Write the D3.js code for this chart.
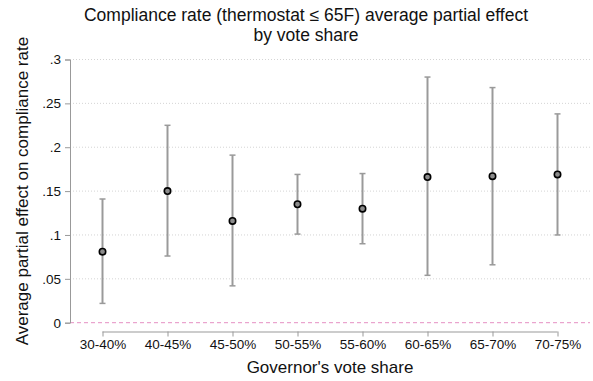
<!DOCTYPE html>
<html>
<head>
<meta charset="utf-8">
<title>Compliance rate partial effect</title>
<style>
  body { margin: 0; background: #fff; }
  text { font-family: "Liberation Sans", Arial, sans-serif; fill: #111; }
</style>
</head>
<body>
<svg width="593" height="381"></svg>
<script src="https://d3js.org/d3.v7.min.js"></script>
<script>

// vote share bins
var bins = ["30-40%", "40-45%", "45-50%", "50-55%", "55-60%", "60-65%", "65-70%", "70-75%"];
// average partial effect and 95% CI
var effect = [0.081, 0.150, 0.116, 0.135, 0.130, 0.166, 0.167, 0.169];
var ciLow  = [0.022, 0.076, 0.042, 0.101, 0.090, 0.054, 0.066, 0.100];
var ciHigh = [0.141, 0.225, 0.191, 0.169, 0.170, 0.280, 0.268, 0.238];
var yTicks = [0, 0.05, 0.1, 0.15, 0.2, 0.25, 0.3];
var yTickLabels = ["0", ".05", ".1", ".15", ".2", ".25", ".3"];

var svg = d3.select("svg");

var x = d3.scaleLinear().domain([0.5, 8.5]).range([70, 590]);
var y = d3.scaleLinear().domain([0, 0.3]).range([322.7, 59.5]);

// gridlines
svg.append("g")
    .selectAll("line")
    .data(yTicks.slice(1))
  .enter().append("line")
    .attr("x1", x(0.5)).attr("x2", x(8.5))
    .attr("y1", function(d) { return y(d); })
    .attr("y2", function(d) { return y(d); })
    .attr("stroke", "#d4d4d4")
    .attr("stroke-width", 1)
    .attr("stroke-dasharray", "1,2");

// zero reference line
svg.append("line")
    .attr("x1", x(0.5)).attr("x2", x(8.5))
    .attr("y1", y(0)).attr("y2", y(0))
    .attr("stroke", "#e58fc3")
    .attr("stroke-width", 1)
    .attr("stroke-dasharray", "4,3");

// y axis
var yAxis = svg.append("g")
    .attr("transform", "translate(70,0)")
    .call(d3.axisLeft(y)
      .tickValues(yTicks)
      .tickFormat(function(d, i) { return yTickLabels[i]; })
      .tickSize(5)
      .tickPadding(4));
yAxis.select(".domain").attr("stroke", "#999");
yAxis.selectAll(".tick line").attr("stroke", "#999");
yAxis.selectAll(".tick text")
    .attr("font-size", "13.5px")
    .attr("font-family", "Liberation Sans, Arial, sans-serif")
    .attr("fill", "#111");

// x axis, drawn below the plot, spanning the categories only
var xAxis = svg.append("g")
    .attr("transform", "translate(0,331.5)")
    .call(d3.axisBottom(x)
      .tickValues(d3.range(1, bins.length + 1))
      .tickFormat(function(d) { return bins[d - 1]; })
      .tickSize(5)
      .tickSizeOuter(0)
      .tickPadding(3));
xAxis.select(".domain")
    .attr("d", "M" + x(1) + ",0.5H" + x(bins.length))
    .attr("stroke", "#999");
xAxis.selectAll(".tick line").attr("stroke", "#999");
xAxis.selectAll(".tick text")
    .attr("font-size", "13.5px")
    .attr("font-family", "Liberation Sans, Arial, sans-serif")
    .attr("fill", "#111");

// error bars
var bars = svg.append("g")
    .selectAll("g")
    .data(bins)
  .enter().append("g");

bars.append("line")
    .attr("x1", function(d, i) { return x(i + 1); })
    .attr("x2", function(d, i) { return x(i + 1); })
    .attr("y1", function(d, i) { return y(ciLow[i]); })
    .attr("y2", function(d, i) { return y(ciHigh[i]); })
    .attr("stroke", "#9a9a9a")
    .attr("stroke-width", 2);

[ciLow, ciHigh].forEach(function(arr) {
  bars.append("line")
      .attr("x1", function(d, i) { return x(i + 1) - 3; })
      .attr("x2", function(d, i) { return x(i + 1) + 3; })
      .attr("y1", function(d, i) { return y(arr[i]); })
      .attr("y2", function(d, i) { return y(arr[i]); })
      .attr("stroke", "#9a9a9a")
      .attr("stroke-width", 1.5);
});

// point estimates
bars.append("circle")
    .attr("cx", function(d, i) { return x(i + 1); })
    .attr("cy", function(d, i) { return y(effect[i]); })
    .attr("r", 3.2)
    .attr("fill", "#8c8c8c")
    .attr("stroke", "#000")
    .attr("stroke-width", 1.6);

// titles
svg.append("text")
    .attr("x", 306).attr("y", 21)
    .attr("text-anchor", "middle")
    .attr("font-size", "17.5px")
    .text("Compliance rate (thermostat \u2264 65F) average partial effect");
svg.append("text")
    .attr("x", 306).attr("y", 40.5)
    .attr("text-anchor", "middle")
    .attr("font-size", "17.5px")
    .text("by vote share");

svg.append("text")
    .attr("x", 330).attr("y", 372.5)
    .attr("text-anchor", "middle")
    .attr("font-size", "17px")
    .text("Governor's vote share");

svg.append("text")
    .attr("transform", "translate(28," + ((y(0) + y(0.3)) / 2) + ") rotate(-90)")
    .attr("text-anchor", "middle")
    .attr("font-size", "17px")
    .text("Average partial effect on compliance rate");

</script>
</body>
</html>
